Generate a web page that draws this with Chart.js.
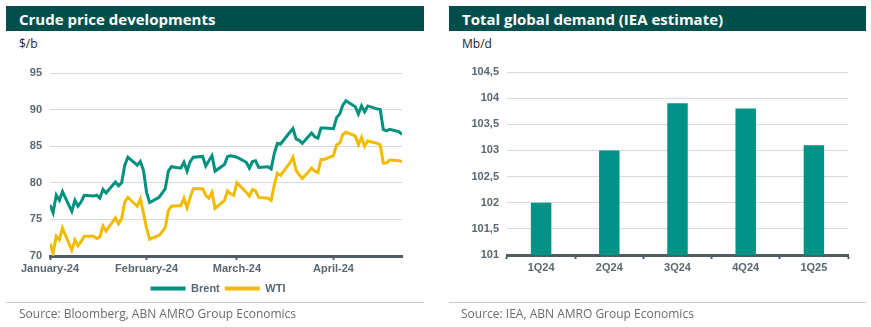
<!DOCTYPE html>
<html>
<head>
<meta charset="utf-8">
<script src="https://cdn.jsdelivr.net/npm/chart.js@4"></script>
<style>
  body { margin: 0; width: 871px; height: 327px; background: #fff; position: relative; overflow: hidden; font-family: "Open Sans", sans-serif; }
  .head { position: absolute; top: 6px; height: 25px; background: #004f4c; color: #fff; font-weight: 700; font-size: 15px; line-height: 26px; box-sizing: border-box; }
  .unit { position: absolute; top: 35px; font-size: 12px; color: #222; }
  .rule { position: absolute; top: 302px; height: 1px; background: #c8c8c8; }
  .source { position: absolute; top: 305px; font-size: 12px; color: #6b6b6b; }
  canvas { position: absolute; top: 50px; }
</style>
</head>
<body>
<div class="head" style="left:6px;width:418px;padding-left:13px">Crude price developments</div>
<div class="unit" style="left:19px">$/b</div>
<canvas id="lineChart" width="430" height="255" style="left:0"></canvas>
<div class="rule" style="left:6px;width:418px"></div>
<div class="source" style="left:19px">Source: Bloomberg, ABN AMRO Group Economics</div>

<div class="head" style="left:449px;width:417px;padding-left:13px">Total global demand (IEA estimate)</div>
<div class="unit" style="left:462px">Mb/d</div>
<canvas id="barChart" width="436" height="250" style="left:435px"></canvas>
<div class="rule" style="left:449px;width:417px"></div>
<div class="source" style="left:461px">Source: IEA, ABN AMRO Group Economics</div>

<script>
// Crude prices, daily closes
const dates = [
  '2024-01-01','2024-01-02','2024-01-03','2024-01-04','2024-01-05',
  '2024-01-08','2024-01-09','2024-01-10','2024-01-11','2024-01-12',
  '2024-01-15','2024-01-16','2024-01-17','2024-01-18','2024-01-19',
  '2024-01-22','2024-01-23','2024-01-24','2024-01-25','2024-01-26',
  '2024-01-29','2024-01-30','2024-01-31','2024-02-01','2024-02-02',
  '2024-02-05','2024-02-06','2024-02-07','2024-02-08','2024-02-09',
  '2024-02-12','2024-02-13','2024-02-14','2024-02-15','2024-02-16',
  '2024-02-19','2024-02-20','2024-02-21','2024-02-22','2024-02-23',
  '2024-02-26','2024-02-27','2024-02-28','2024-02-29','2024-03-01',
  '2024-03-04','2024-03-05','2024-03-06','2024-03-07','2024-03-08',
  '2024-03-11','2024-03-12','2024-03-13','2024-03-14','2024-03-15',
  '2024-03-18','2024-03-19','2024-03-20','2024-03-21','2024-03-22',
  '2024-03-25','2024-03-26','2024-03-27','2024-03-28','2024-03-29',
  '2024-04-01','2024-04-02','2024-04-03','2024-04-04','2024-04-05',
  '2024-04-08','2024-04-09','2024-04-10','2024-04-11','2024-04-12',
  '2024-04-15','2024-04-16','2024-04-17','2024-04-18','2024-04-19',
  '2024-04-22','2024-04-23'
];
const brent = [
  77.0, 75.9, 78.3, 77.6, 78.8,
  76.1, 77.6, 76.8, 77.4, 78.3,
  78.2, 78.3, 77.9, 79.1, 78.6,
  80.1, 79.6, 80.0, 82.4, 83.5,
  82.4, 82.9, 81.7, 78.7, 77.3,
  78.0, 78.6, 79.2, 81.6, 82.2,
  82.0, 82.8, 81.6, 82.9, 83.5,
  83.6, 82.3, 83.0, 83.7, 81.6,
  82.5, 83.6, 83.7, 83.6, 83.5,
  82.8, 82.0, 82.9, 83.0, 82.1,
  82.2, 81.9, 84.0, 85.4, 85.3,
  86.9, 87.4, 86.0, 85.8, 85.4,
  86.8, 86.3, 86.1, 87.5, 87.5,
  87.4, 88.9, 89.4, 90.6, 91.2,
  90.4, 89.4, 90.5, 89.7, 90.5,
  90.1, 90.0, 87.3, 87.1, 87.3,
  87.0, 86.6
];
const wti = [
  71.7, 70.4, 72.7, 72.2, 73.8,
  70.8, 72.2, 71.4, 72.0, 72.7,
  72.7, 72.4, 72.6, 74.1, 73.4,
  75.2, 74.4, 75.1, 77.4, 78.0,
  76.8, 77.8, 75.9, 73.8, 72.3,
  72.8, 73.3, 73.9, 76.2, 76.8,
  76.9, 77.9, 76.6, 78.0, 79.2,
  79.2, 78.3, 77.9, 78.7, 76.5,
  77.6, 78.9, 78.5, 78.3, 80.0,
  78.7, 78.2, 79.1, 78.9, 78.0,
  77.9, 77.6, 79.7, 81.3, 81.0,
  82.7, 83.5, 81.7, 81.1, 80.6,
  82.0, 81.6, 81.4, 83.2, 83.2,
  83.7, 85.2, 85.4, 86.6, 86.9,
  86.4, 85.2, 86.2, 85.0, 85.7,
  85.4, 85.2, 82.7, 82.7, 83.1,
  83.0, 82.9
];
const monthStarts = ['2024-01-01', '2024-02-01', '2024-03-01', '2024-04-01'];
const monthLabels = ['January-24', 'February-24', 'March-24', 'April-24'];

// IEA demand estimate
const quarters = ['1Q24', '2Q24', '3Q24', '4Q24', '1Q25'];
const demand = [102.0, 103.0, 103.9, 103.8, 103.1];

const TEAL = '#00917f';
const YELLOW = '#f3bb00';
const AXIS = '#505c64';
const GRID = '#d9d9d9';
const TICK_FONT = { family: '"Liberation Sans", Arial, sans-serif', size: 11, weight: 'bold' };

const DAY = 86400000;
const t0 = Date.parse(dates[0]);
const dayOf = d => Math.round((Date.parse(d) - t0) / DAY);
const monthDays = monthStarts.map(dayOf);

function points(values) {
    return values.map((v, i) => ({ x: dayOf(dates[i]), y: v }));
}

// legend sits centred under the panel, not under the whole canvas
const legendShift = {
    id: 'legendShift',
    afterLayout(chart) {
        if (chart.legend) chart.legend.left += 34;
    }
};

new Chart(document.getElementById('lineChart'), {
    type: 'line',
    data: {
        datasets: [
            { label: 'Brent', data: points(brent), borderColor: TEAL, backgroundColor: TEAL, borderWidth: 3, pointRadius: 0, tension: 0 },
            { label: 'WTI', data: points(wti), borderColor: YELLOW, backgroundColor: YELLOW, borderWidth: 3, pointRadius: 0, tension: 0 }
        ]
    },
    plugins: [legendShift],
    options: {
        responsive: false,
        animation: false,
        devicePixelRatio: 1,
        layout: { padding: { left: 0, right: 28, top: 23, bottom: 1 } },
        scales: {
            x: {
                type: 'linear',
                min: 0,
                max: dayOf(dates[dates.length - 1]),
                afterBuildTicks: s => { s.ticks = monthDays.map(v => ({ value: v })); },
                afterFit: s => { s.height = 22; },
                grid: { drawOnChartArea: false, drawTicks: true, tickLength: 4, color: AXIS, tickWidth: 2 },
                border: { color: AXIS, width: 3 },
                ticks: {
                    color: '#5a6770', font: TICK_FONT, padding: 2, maxRotation: 0, autoSkip: false,
                    callback: v => monthLabels[monthDays.indexOf(v)]
                }
            },
            y: {
                min: 70,
                max: 95,
                afterFit: s => { s.width = 50; },
                ticks: { stepSize: 5, color: '#5a6770', font: TICK_FONT, padding: 8 },
                grid: { color: GRID, drawTicks: false },
                border: { display: false }
            }
        },
        plugins: {
            legend: {
                position: 'bottom',
                labels: {
                    boxWidth: 35,
                    boxHeight: 4,
                    padding: 5,
                    color: '#5a6770',
                    font: TICK_FONT,
                    generateLabels: chart => Chart.defaults.plugins.legend.labels.generateLabels(chart)
                        .map(l => Object.assign(l, { lineWidth: 0 }))
                }
            },
            tooltip: { enabled: false }
        }
    }
});

new Chart(document.getElementById('barChart'), {
    type: 'bar',
    data: {
        labels: quarters,
        datasets: [{ label: 'Demand', data: demand, backgroundColor: '#009286', barPercentage: 0.3, categoryPercentage: 1 }]
    },
    options: {
        responsive: false,
        animation: false,
        devicePixelRatio: 1,
        layout: { padding: { left: 0, right: 23, top: 22, bottom: 23 } },
        scales: {
            x: {
                afterFit: s => { s.height = 22; },
                grid: { drawOnChartArea: false, drawTicks: true, tickLength: 4, color: AXIS, tickWidth: 2 },
                border: { color: AXIS, width: 3 },
                ticks: { color: '#5a6770', font: TICK_FONT, padding: 2 }
            },
            y: {
                min: 101,
                max: 104.5,
                afterFit: s => { s.width = 72; },
                ticks: {
                    stepSize: 0.5, color: '#5a6770', font: TICK_FONT, padding: 8,
                    callback: v => String(v).replace('.', ',')
                },
                grid: { color: GRID, drawTicks: false },
                border: { display: false }
            }
        },
        plugins: { legend: { display: false }, tooltip: { enabled: false } }
    }
});
</script>
</body>
</html>
